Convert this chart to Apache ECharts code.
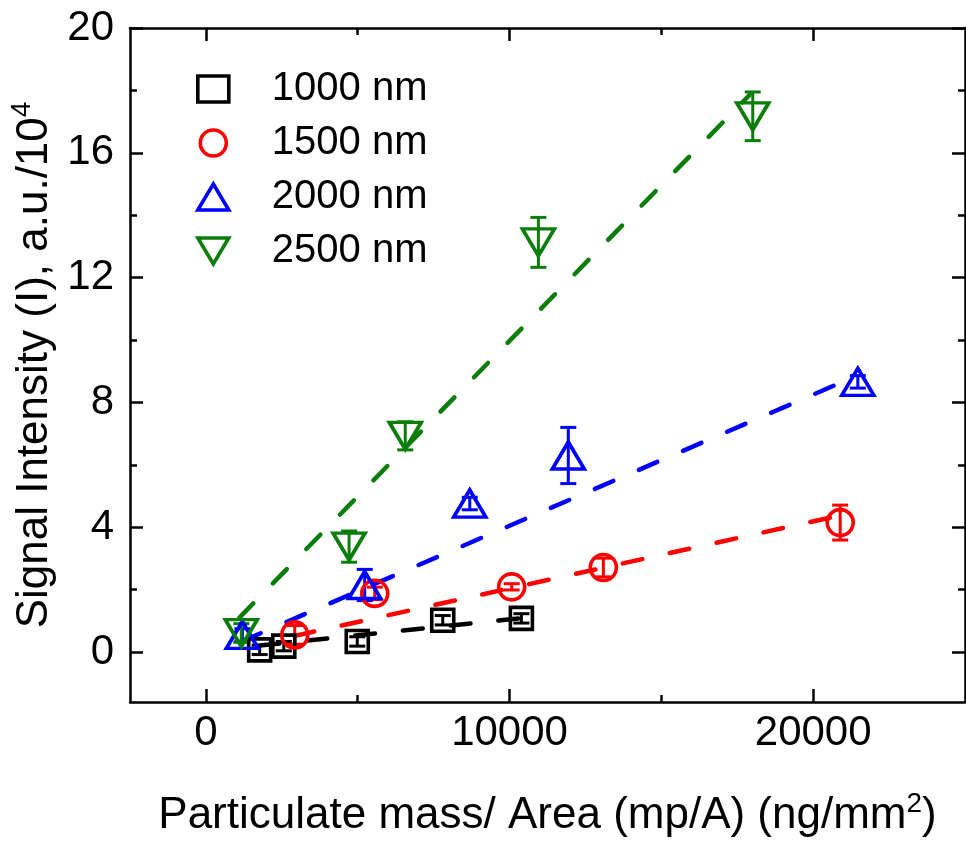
<!DOCTYPE html>
<html>
<head>
<meta charset="utf-8">
<script src="https://cdn.jsdelivr.net/npm/echarts@6/dist/echarts.min.js"></script>
<style>
  html, body { margin: 0; padding: 0; background: #fff; }
  #chart { width: 966px; height: 842px; }
</style>
</head>
<body>
<div id="chart"></div>
<script>
// series names + colours
var names = ['1000 nm', '1500 nm', '2000 nm', '2500 nm'];
var colors = ['#000000', '#ff0000', '#0000ff', '#0a7d0a'];

// mass per area (ng/mm2)
var x1000 = [1770, 2565, 4985, 7800, 10390];
var x1500 = [2925, 5560, 10070, 13090, 20890];
var x2000 = [1200, 5230, 8690, 11935, 21470];
var x2500 = [1165, 4715, 6565, 10950, 18010];

// signal intensity (a.u./10^4)
var y1000 = [0.07, 0.19, 0.34, 1.02, 1.08];
var y1500 = [0.55, 1.88, 2.09, 2.71, 4.15];
var y2000 = [0.55, 2.15, 4.76, 6.3, 8.66];
var y2500 = [0.61, 3.38, 6.93, 13.13, 17.17];

// error (+/-)
var e1000 = [0.15, 0.15, 0.15, 0.15, 0.15];
var e1500 = [0.3, 0.2, 0.1, 0.3, 0.56];
var e2000 = [0.2, 0.5, 0.2, 0.9, 0.2];
var e2500 = [0.3, 0.5, 0.45, 0.8, 0.78];

// linear fits, start and end points
var fit1000 = [[1770, 0.21], [10390, 1.09]];
var fit1500 = [[2925, 0.52], [20890, 4.38]];
var fit2000 = [[1200, 0.35], [21470, 8.87]];
var fit2500 = [[1100, 1.1], [17900, 17.85]];

// axis ticks
var xMajor = [0, 10000, 20000];
var xMinor = [5000, 15000];
var yMajor = [0, 4, 8, 12, 16, 20];
var yMinor = [2, 6, 10, 14, 18];

var FONT = '"Liberation Sans", Arial, sans-serif';

var xs = [x1000, x1500, x2000, x2500];
var ys = [y1000, y1500, y2000, y2500];
var es = [e1000, e1500, e2000, e2500];
var fits = [fit1000, fit1500, fit2000, fit2500];
var symbols = ['rect', 'circle', 'triangle', 'triangle'];
var symSizes = [22, 26, [32, 27], [32, 27]];
var rotates = [0, 0, 0, 180];
var legendIcons = ['rect', 'circle', 'triangle', 'path://M0,0L32,0L16,27Z'];

function zip(a, b, c) {
    return a.map(function (v, i) { return c ? [v, b[i], c[i]] : [v, b[i]]; });
}

function errorBar(params, api) {
    var x = api.value(0), y = api.value(1), e = api.value(2);
    var top = api.coord([x, y + e]);
    var bot = api.coord([x, y - e]);
    var half = 8;
    var st = { stroke: api.visual('color'), lineWidth: 3, fill: null };
    return {
        type: 'group',
        children: [
            { type: 'line', shape: { x1: top[0], y1: top[1], x2: bot[0], y2: bot[1] }, style: st },
            { type: 'line', shape: { x1: top[0] - half, y1: top[1], x2: top[0] + half, y2: top[1] }, style: st },
            { type: 'line', shape: { x1: bot[0] - half, y1: bot[1], x2: bot[0] + half, y2: bot[1] }, style: st }
        ]
    };
}

function axis(pos, ticks, len, opts) {
    var a = {
        type: 'value',
        position: pos,
        splitLine: { show: false },
        axisLine: { show: opts.line, onZero: false, lineStyle: { color: '#000', width: 2.5 } },
        axisTick: { show: true, inside: true, length: len, customValues: ticks, lineStyle: { color: '#000', width: 2.5 } },
        axisLabel: { show: false }
    };
    return Object.assign(a, opts.range);
}

var xRange = { min: -2500, max: 25000 };
var yRange = { min: -1.6, max: 20 };

var nameStyle = {
    fontFamily: FONT, color: '#000',
    rich: {
        b: { fontSize: 44, fontFamily: FONT, color: '#000', lineHeight: 52, verticalAlign: 'middle' },
        sup: { fontSize: 28, fontFamily: FONT, color: '#000', lineHeight: 28, verticalAlign: 'top' }
    }
};

var xBottom = axis('bottom', xMajor, 13, { line: true, range: xRange });
xBottom.axisLabel = {
    show: true, customValues: xMajor, margin: 10,
    fontSize: 42, fontFamily: FONT, color: '#000',
    formatter: function (v) { return String(v); }
};
xBottom.name = '{b|Particulate mass/ Area (mp/A) (ng/mm}{sup|2}{b|)}';
xBottom.nameLocation = 'middle';
xBottom.nameGap = 88;
xBottom.nameTextStyle = nameStyle;

var yLeft = axis('left', yMajor, 13, { line: true, range: yRange });
yLeft.axisLabel = {
    show: true, customValues: yMajor, margin: 16,
    fontSize: 42, fontFamily: FONT, color: '#000'
};
yLeft.name = '{b|Signal Intensity (I), a.u./10}{sup|4}';
yLeft.nameLocation = 'middle';
yLeft.nameGap = 68;
yLeft.nameTextStyle = nameStyle;

var series = [];
// fit lines first so markers sit on top
fits.forEach(function (f, i) {
    series.push({
        name: 'fit ' + names[i],
        type: 'line',
        data: f,
        symbol: 'none',
        silent: true,
        z: 1,
        lineStyle: { color: colors[i], width: 4.5, type: [20, 28], cap: 'round' }
    });
});
xs.forEach(function (x, i) {
    series.push({
        name: 'err ' + names[i],
        type: 'custom',
        renderItem: errorBar,
        data: zip(x, ys[i], es[i]),
        itemStyle: { color: colors[i] },
        z: 2
    });
});
xs.forEach(function (x, i) {
    series.push({
        name: names[i],
        type: 'scatter',
        data: zip(x, ys[i]),
        symbol: symbols[i],
        symbolSize: symSizes[i],
        symbolRotate: rotates[i],
        itemStyle: { color: 'rgba(255,255,255,0)', borderColor: colors[i], borderWidth: 3.6, opacity: 1 },
        z: 3
    });
});

var chart = echarts.init(document.getElementById('chart'));
chart.setOption({
    backgroundColor: '#fff',
    animation: false,
    grid: { left: 130, right: 1, top: 28, bottom: 140, outerBoundsMode: 'none', containLabel: false },
    legend: {
        data: names.map(function (n, i) {
            return { name: n, icon: legendIcons[i], itemStyle: { color: 'rgba(255,255,255,0)', borderColor: colors[i], borderWidth: 3.6, opacity: 1 } };
        }),
        orient: 'vertical',
        left: 191,
        top: 64,
        itemWidth: 31,
        itemHeight: 26,
        itemGap: 14,
        textStyle: { fontSize: 40, fontFamily: FONT, color: '#000', padding: [0, 0, 0, 38] }
    },
    xAxis: [
        xBottom,
        axis('bottom', xMinor, 7, { line: false, range: xRange }),
        axis('top', xMajor, 13, { line: true, range: xRange }),
        axis('top', xMinor, 7, { line: false, range: xRange })
    ],
    yAxis: [
        yLeft,
        axis('left', yMinor, 7, { line: false, range: yRange }),
        axis('right', yMajor, 13, { line: true, range: yRange }),
        axis('right', yMinor, 7, { line: false, range: yRange })
    ],
    series: series
});
</script>
</body>
</html>
